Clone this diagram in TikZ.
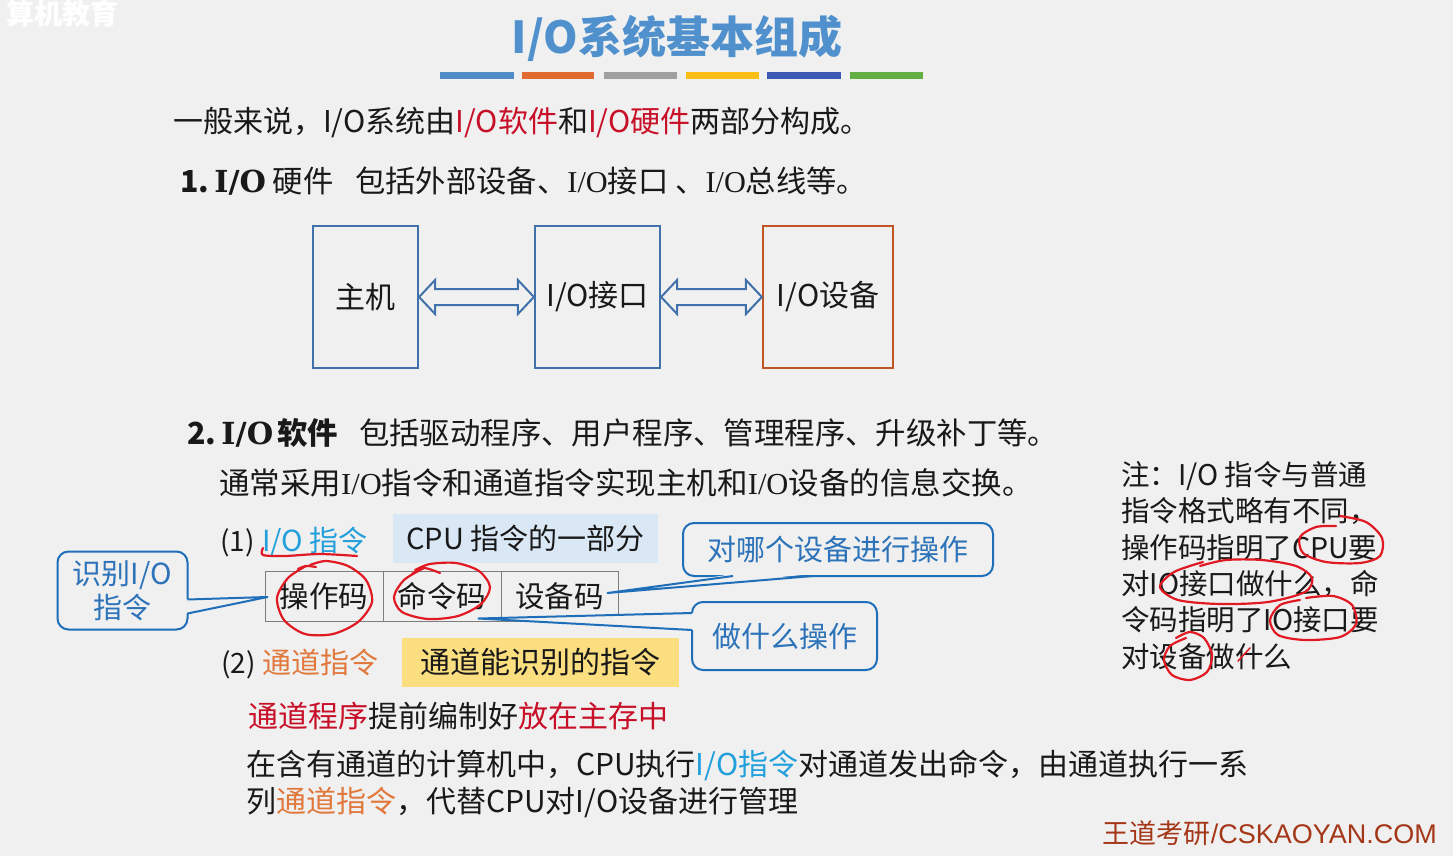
\documentclass[tikz,border=0pt]{standalone}
\usepackage{fontspec}
\setmainfont{Noto Sans CJK SC}
\newfontfamily\lser{Liberation Serif}
\newfontfamily\dser{DejaVu Serif}
\newfontfamily\lsans{Liberation Sans}
\usetikzlibrary{calc}
\definecolor{bg}{RGB}{240,240,240}
\definecolor{ink}{RGB}{25,25,25}
\definecolor{titleblue}{RGB}{80,145,205}
\definecolor{boxblue}{RGB}{65,113,170}
\definecolor{devorange}{RGB}{190,85,35}
\definecolor{myred}{RGB}{200,15,40}
\definecolor{ioblue}{RGB}{35,160,220}
\definecolor{chorange}{RGB}{225,120,60}
\definecolor{cblue}{RGB}{30,110,185}
\definecolor{ctext}{RGB}{45,115,185}
\definecolor{lbbox}{RGB}{218,231,245}
\definecolor{ybox}{RGB}{250,222,128}
\definecolor{cellgray}{RGB}{125,125,125}
\definecolor{footer}{RGB}{165,55,25}
\definecolor{pen}{RGB}{225,25,35}
\definecolor{barA}{RGB}{79,140,200}
\definecolor{barB}{RGB}{224,106,48}
\definecolor{barC}{RGB}{160,160,160}
\definecolor{barD}{RGB}{250,190,20}
\definecolor{barE}{RGB}{60,90,180}
\definecolor{barF}{RGB}{100,175,65}
\newcommand\fsz[1]{\fontsize{#1}{#1}\selectfont}
\begin{document}
\begin{tikzpicture}[x=1pt,y=-1pt,
  txt/.style={inner sep=0pt, anchor=base west, text=ink},
  hwbox/.style={draw=boxblue, line width=2.2pt, fill=bg, font=\fsz{30}, text=ink, inner sep=0pt},
  dblarr/.style={draw=boxblue, line width=2pt, fill=bg, line join=miter},
  cellbox/.style={draw=cellgray, line width=1pt, fill=bg, minimum width=118pt, minimum height=50pt, inner sep=0pt, font=\fsz{29.5}, text=ink},
  callbox/.style={draw=cblue, line width=2pt, fill=bg, rounded corners=11pt, inner sep=0pt, font=\fontsize{29}{34}\selectfont, text=ctext, align=center},
  callline/.style={draw=cblue, line width=2pt, line join=round},
  penstroke/.style={draw=pen, line width=2.2pt, line cap=round, line join=round}
]
\fill[bg] (0,0) rectangle (1453,856);
\useasboundingbox (0,0) rectangle (1453,856);

% watermark
\node[txt, text=white, font=\fsz{28}\bfseries] (wm) at (6,25) {算机教育};

% title and colour bars
\node[inner sep=0pt, font=\fsz{44}\bfseries, text=titleblue] (title) at (677,38) {I/O系统基本组成};
\fill[barA] (440,72) rectangle (514,79);
\fill[barB] (522,72) rectangle (594,79);
\fill[barC] (604,72) rectangle (677,79);
\fill[barD] (686,72) rectangle (759,79);
\fill[barE] (767,72) rectangle (841,79);
\fill[barF] (850,72) rectangle (923,79);

% intro line
\node[txt, font=\fsz{30}] (intro) at (173,132) {一般来说，I/O系统由\textcolor{myred}{I/O软件}和\textcolor{myred}{I/O硬件}两部分构成。};

% 1. hardware
\node[txt, font=\fsz{30.3}] (hw) at (180,192) {{\bfseries 1.}\,{\dser\bfseries I/O} 硬件\hspace{22pt}包括外部设备、{\lser I/O}接口 、{\lser I/O}总线等。};

\node[hwbox, minimum width=105pt, minimum height=142pt] (host) at (365.5,297) {主机};
\node[hwbox, minimum width=125pt, minimum height=142pt] (iface) at (597.5,297) {I/O接口};
\node[hwbox, draw=devorange, minimum width=130pt, minimum height=142pt] (dev) at (828,297) {I/O设备};

\draw[dblarr] (host.east) -- ++(16,-17) -- ++(0,9) -- ($(iface.west)+(-16,-8)$) -- ++(0,-9) -- (iface.west)
  -- ++(-16,17) -- ++(0,-9) -- ($(host.east)+(16,8)$) -- ++(0,9) -- cycle;
\draw[dblarr] (iface.east) -- ++(16,-17) -- ++(0,9) -- ($(dev.west)+(-16,-8)$) -- ++(0,-9) -- (dev.west)
  -- ++(-16,17) -- ++(0,-9) -- ($(iface.east)+(16,8)$) -- ++(0,9) -- cycle;

% 2. software
\node[txt, font=\fsz{30.4}] (sw) at (187,444) {{\bfseries 2.}\,{\dser\bfseries I/O}\hspace{4pt}{\bfseries 软件}\hspace{21pt}包括驱动程序、用户程序、管理程序、升级补丁等。};
\node[txt, font=\fsz{30.5}] (swb) at (219,494) {通常采用{\lser I/O}指令和通道指令实现主机和{\lser I/O}设备的信息交换。};

% (1) I/O instruction
\node[txt, font=\fsz{28}] (p1) at (220,551) {(1)};
\node[txt, font=\fsz{29}, text=ioblue] (ioins) at (262,551) {I/O 指令};
\node[fill=lbbox, minimum width=265pt, minimum height=49pt, inner sep=0pt, font=\fsz{29}, text=ink] (cpu) at (525.5,538) {CPU 指令的一部分};

\node[cellbox] (op) at (324,596) {操作码};
\node[cellbox] (cmd) at (442,596) {命令码};
\node[cellbox, minimum width=117pt] (devc) at (559.5,596) {设备码};

% (2) channel instruction
\node[txt, font=\fsz{28}] (p2) at (221,673) {(2)};
\node[txt, font=\fsz{29}, text=chorange] (chins) at (262,673) {通道指令};
\node[fill=ybox, minimum width=277pt, minimum height=49pt, inner sep=0pt, font=\fsz{30}, text=ink] (chan) at (540.5,662.5) {通道能识别的指令};

% callout: 识别I/O指令
\node[callbox, minimum width=130pt, minimum height=78pt] (c1) at (122.5,590.5) {识别I/O\\指令};
\fill[bg] ($(c1.east)+(-3,9)$) -- ($(op.west)+(3,1)$) -- ($(c1.east)+(-3,23)$) -- cycle;
\draw[callline] ($(c1.east)+(-1,9)$) -- ($(op.west)+(3,1)$) -- ($(c1.east)+(-1,23)$);

% callout: 对哪个设备进行操作
\node[callbox, minimum width=310pt, minimum height=53pt] (c2) at (838,549.5) {对哪个设备进行操作};
\fill[bg] ($(c2.south)+(-105,-3)$) -- ($(devc.east)+(-11,-3)$) -- ($(c2.south)+(-25,-3)$) -- cycle;
\draw[callline] ($(c2.south)+(-105,-1)$) -- ($(devc.east)+(-11,-3)$) -- ($(c2.south)+(-25,-1)$);

% callout: 做什么操作
\node[callbox, minimum width=185pt, minimum height=68pt] (c3) at (784.5,636) {做什么操作};
\fill[bg] ($(c3.west)+(3,-23)$) -- ($(cmd.south east)+(-23,-3)$) -- ($(c3.west)+(3,-6)$) -- cycle;
\draw[callline] ($(c3.west)+(1,-23)$) -- ($(cmd.south east)+(-23,-3)$) -- ($(c3.west)+(1,-6)$);

% note on the right
\node[txt, font=\fsz{28.5}] (nt1) at (1121,485) {注：I/O 指令与普通};
\node[txt, font=\fsz{28.5}] (nt2) at (1121,521) {指令格式略有不同，};
\node[txt, font=\fsz{28.5}] (nt3) at (1121,558) {操作码指明了CPU要};
\node[txt, font=\fsz{28.5}] (nt4) at (1121,594) {对IO接口做什么，命};
\node[txt, font=\fsz{28.5}] (nt5) at (1121,630) {令码指明了IO接口要};
\node[txt, font=\fsz{28.5}] (nt6) at (1121,667) {对设备做什么};

% bottom text
\node[txt, font=\fsz{30}] (prog) at (248,727) {\textcolor{myred}{通道程序}提前编制好\textcolor{myred}{放在主存中}};
\node[txt, font=\fsz{30}] (exp1) at (246,775) {在含有通道的计算机中，CPU执行\textcolor{ioblue}{I/O指令}对通道发出命令，由通道执行一系};
\node[txt, font=\fsz{30}] (exp2) at (246,812) {列\textcolor{chorange}{通道指令}，代替CPU对I/O设备进行管理};

% footer
\node[inner sep=0pt, anchor=east, font=\fsz{27}, text=footer] (foot) at (1437,833) {王道考研{\lsans /CSKAOYAN.COM}};

% hand-drawn red marks
\draw[penstroke] plot[smooth] coordinates {(263,548) (263,555) (285,556) (320,554) (357,556)};
\draw[penstroke] plot[smooth] coordinates {(298,569) (306,566) (316,567)};
\draw[penstroke] plot[smooth] coordinates {(306,566) (288,578) (277,598) (284,620) (305,634) (333,634) (358,622) (372,602) (366,580) (348,566) (326,561) (310,565)};
\draw[penstroke] plot[smooth] coordinates {(412,574) (424,568) (440,573)};
\draw[penstroke] plot[smooth] coordinates {(424,568) (404,580) (394,597) (402,612) (428,619) (458,616) (481,604) (490,587) (479,571) (456,563) (430,564) (415,570)};
% note marks
\draw[penstroke] plot[smooth] coordinates {(1340,516) (1366,522) (1382,538) (1380,556) (1360,563) (1326,562) (1303,553) (1300,537) (1316,527) (1336,526)};
\draw[penstroke] plot[smooth] coordinates {(1203,562) (1174,572) (1160,587) (1178,600) (1220,604) (1268,602) (1305,592) (1312,578) (1296,566) (1262,560) (1226,560) (1200,566)};
\draw[penstroke] plot[smooth] coordinates {(1300,600) (1280,605) (1270,620) (1278,635) (1305,640) (1340,637) (1356,624) (1352,605) (1333,596) (1306,598)};
\draw[penstroke] plot[smooth] coordinates {(1186,638) (1170,646) (1164,660) (1172,675) (1190,680) (1207,672) (1212,655) (1204,638) (1190,632) (1176,638)};
\draw[penstroke, line width=1.5pt] (1238,661) -- (1250,648);
\end{tikzpicture}
\end{document}
